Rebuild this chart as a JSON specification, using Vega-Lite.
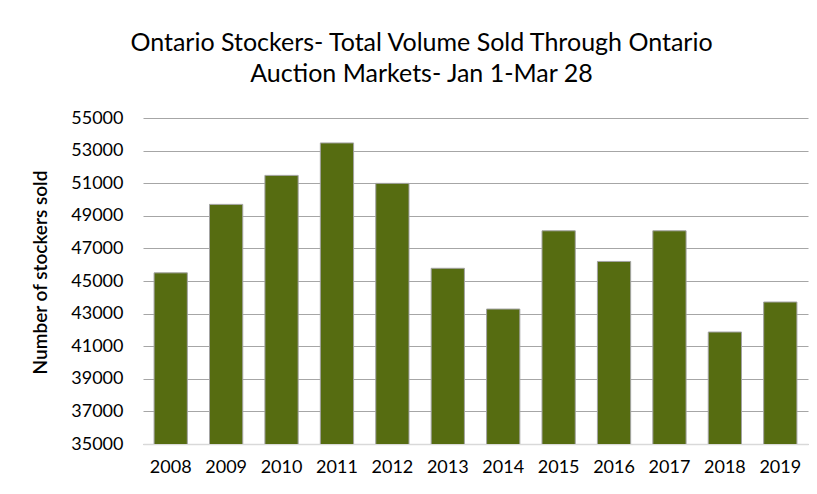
{
  "$schema": "https://vega.github.io/schema/vega-lite/v6.json",
  "autosize": {"type": "none"},
  "width": 665,
  "height": 326,
  "padding": {"left": 143, "top": 118, "right": 9, "bottom": 50},
  "background": "white",
  "title": {
    "text": ["Ontario Stockers- Total Volume Sold Through Ontario", "Auction Markets- Jan 1-Mar 28"],
    "font": "Lato",
    "fontSize": 25,
    "fontWeight": "normal",
    "color": "#000000",
    "lineHeight": 31,
    "anchor": "middle",
    "dx": -54,
    "offset": 22
  },
  "data": {
    "values": [
      {"year": "2008", "sold": 45500},
      {"year": "2009", "sold": 49700},
      {"year": "2010", "sold": 51480},
      {"year": "2011", "sold": 53470},
      {"year": "2012", "sold": 50990},
      {"year": "2013", "sold": 45780},
      {"year": "2014", "sold": 43280},
      {"year": "2015", "sold": 48080},
      {"year": "2016", "sold": 46200},
      {"year": "2017", "sold": 48080},
      {"year": "2018", "sold": 41870},
      {"year": "2019", "sold": 43710}
    ]
  },
  "mark": {"type": "bar", "color": "#566C11", "stroke": "#A3A3A3", "strokeWidth": 1, "clip": true},
  "encoding": {
    "x": {
      "field": "year",
      "type": "ordinal",
      "scale": {"paddingInner": 0.4, "paddingOuter": 0.2},
      "axis": {
        "title": null,
        "labelAngle": 0,
        "labelFont": "Lato",
        "labelFontSize": 18,
        "labelColor": "#000000",
        "labelPadding": 14,
        "ticks": false,
        "domainColor": "#D9D9D9",
        "domainWidth": 1.5
      }
    },
    "y": {
      "field": "sold",
      "type": "quantitative",
      "scale": {"domain": [35000, 55000], "nice": false, "zero": false},
      "axis": {
        "title": "Number of stockers sold",
        "titleFont": "Lato",
        "titleFontSize": 19,
        "titleFontWeight": 600,
        "titleColor": "#000000",
        "titlePadding": 20,
        "titleY": 154,
        "values": [35000, 37000, 39000, 41000, 43000, 45000, 47000, 49000, 51000, 53000, 55000],
        "format": "d",
        "labelFont": "Lato",
        "labelFontSize": 18,
        "labelColor": "#000000",
        "labelPadding": 20,
        "ticks": false,
        "domain": false,
        "grid": true,
        "gridColor": "#A6A6A6",
        "gridWidth": 1.2
      }
    }
  },
  "config": {"view": {"stroke": null}}
}
